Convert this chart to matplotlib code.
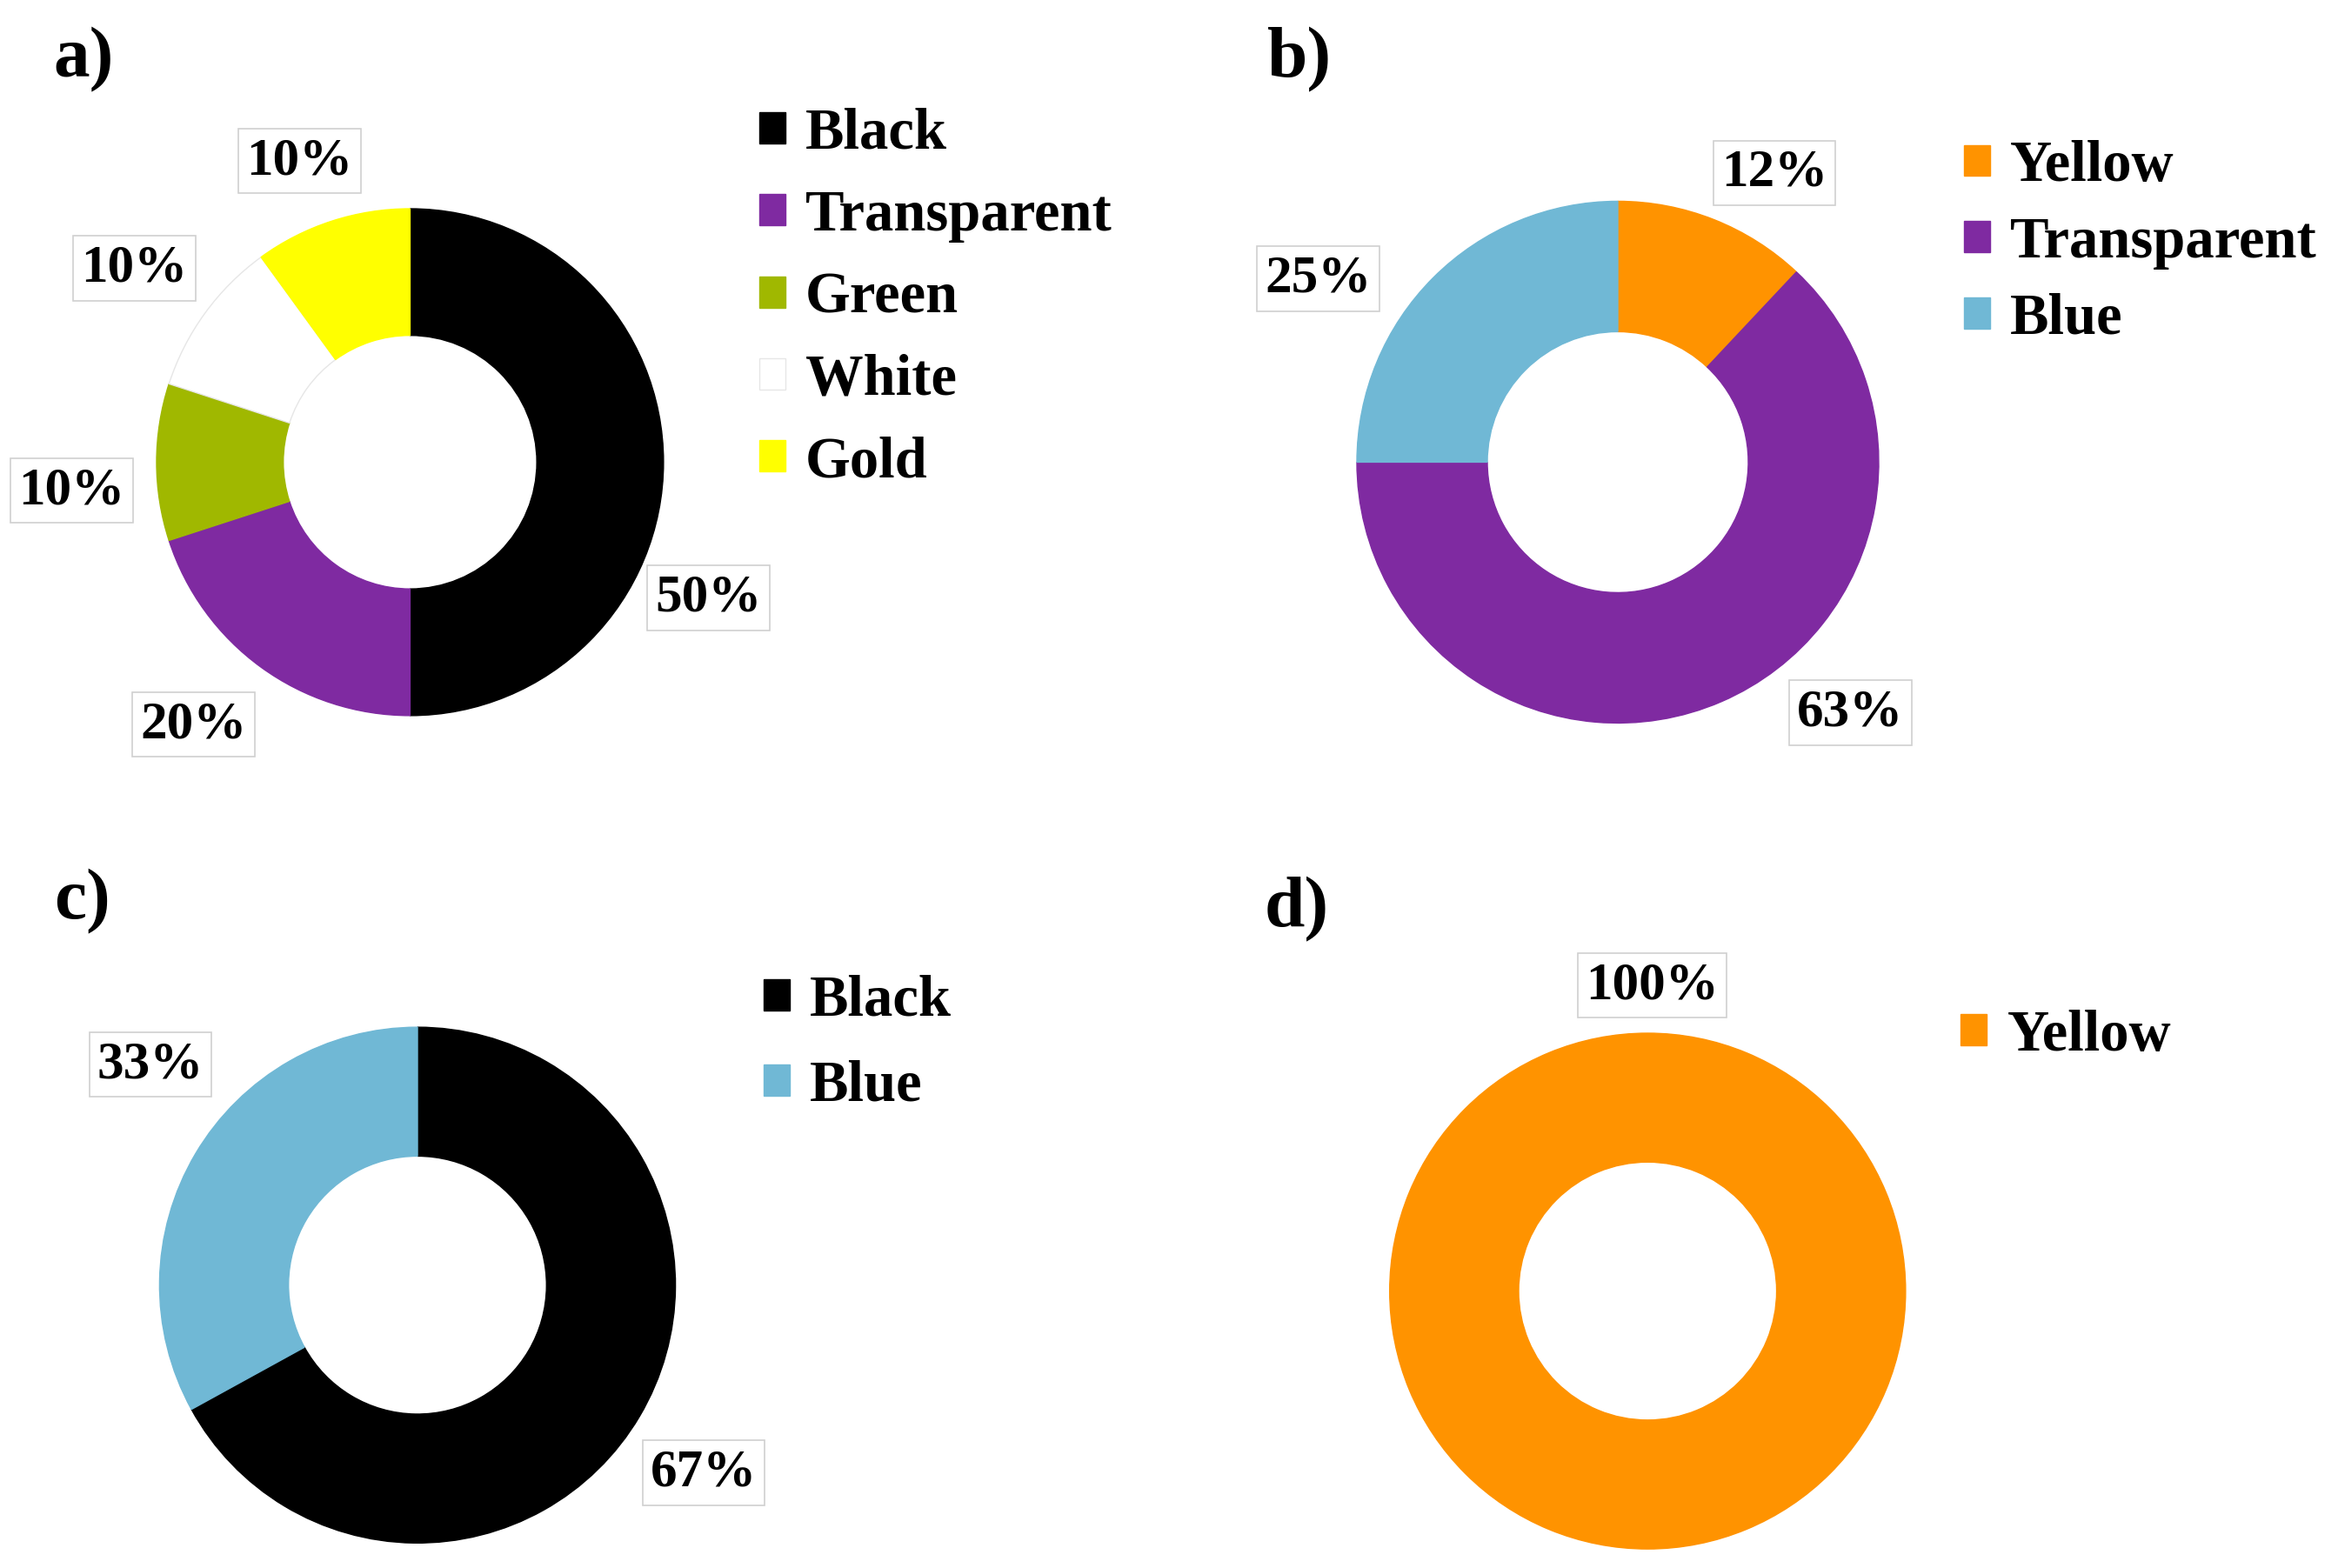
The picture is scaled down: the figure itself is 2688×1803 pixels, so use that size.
import matplotlib
matplotlib.use("Agg")
import matplotlib.pyplot as plt

plt.rcParams['font.family'] = ['Liberation Serif', 'DejaVu Serif']
plt.rcParams['font.weight'] = 'bold'

# data
a_labels = ["Black", "Transparent", "Green", "White", "Gold"]
a_values = [50, 20, 10, 10, 10]
a_colors = ["#000000", "#7f2aa1", "#a0b800", "#ffffff", "#ffff00"]

b_labels = ["Yellow", "Transparent", "Blue"]
b_values = [12, 63, 25]
b_colors = ["#ff9300", "#7f2aa1", "#70b8d5"]

c_labels = ["Black", "Blue"]
c_values = [67, 33]
c_colors = ["#000000", "#70b8d5"]

d_labels = ["Yellow"]
d_values = [100]
d_colors = ["#ff9300"]

W, H = 2688, 1803
S = W / 1568.0   # reference layout was measured on a 1568 wide view

fig = plt.figure(figsize=(W / 100, H / 100), dpi=100)


def fx(x):
    return x * S / W


def fy(y):
    return 1 - y * S / H


def donut(cx, cy, r, values, colors, labels, lab_pos, tag, tag_xy, leg_xy, spacing):
    k = 1.5
    ax = fig.add_axes([fx(cx - k * r), fy(cy + k * r), 2 * k * r * S / W, 2 * k * r * S / H])
    wedges, _ = ax.pie(values, colors=colors, startangle=90, counterclock=False,
                       radius=1, wedgeprops=dict(width=0.5, linewidth=1))
    for w, c in zip(wedges, colors):
        if c == "#ffffff":
            w.set_edgecolor("#e6e6e6")
        else:
            w.set_edgecolor(c)
    ax.set_xlim(-k, k)
    ax.set_ylim(-k, k)
    ax.set_aspect('equal')
    ax.axis('off')
    total = sum(values)
    for v, (px, py) in zip(values, lab_pos):
        ax.text(px, py, f"{round(100 * v / total)}%", ha='center', va='center',
                fontsize=44, fontweight='bold',
                bbox=dict(boxstyle='square,pad=0.15', fc='white', ec='#d0d0d0', lw=1.2))
    fig.text(fx(tag_xy[0]), fy(tag_xy[1]), tag, fontsize=60, fontweight='bold',
             ha='left', va='center')
    fig.legend(wedges, labels, loc='center left',
               bbox_to_anchor=(fx(leg_xy[0]), fy(leg_xy[1])), bbox_transform=fig.transFigure,
               frameon=False, handlelength=0.45, handleheight=0.45,
               handletextpad=0.35, labelspacing=spacing, borderpad=0, borderaxespad=0,
               prop=dict(weight='bold', size=48))
    return ax


donut(275, 310, 170, a_values, a_colors, a_labels,
      [(1.176, -0.535), (-0.853, -1.035), (-1.335, -0.112), (-1.088, 0.765), (-0.435, 1.188)],
      "a)", (36, 40), (509, 200), 0.5)
donut(1085, 310, 175, b_values, b_colors, b_labels,
      [(0.6, 1.109), (0.891, -0.96), (-1.149, 0.703)],
      "b)", (850, 40), (1317, 163), 0.4)
donut(280, 862, 173, c_values, c_colors, c_labels,
      [(1.11, -0.728), (-1.035, 0.855)],
      "c)", (36, 605), (512, 700), 0.55)
donut(1105, 866, 173, d_values, d_colors, d_labels,
      [(0.017, 1.185)],
      "d)", (848, 610), (1315, 695), 0.3)

fig.savefig("out.png", dpi=100, facecolor='white')
